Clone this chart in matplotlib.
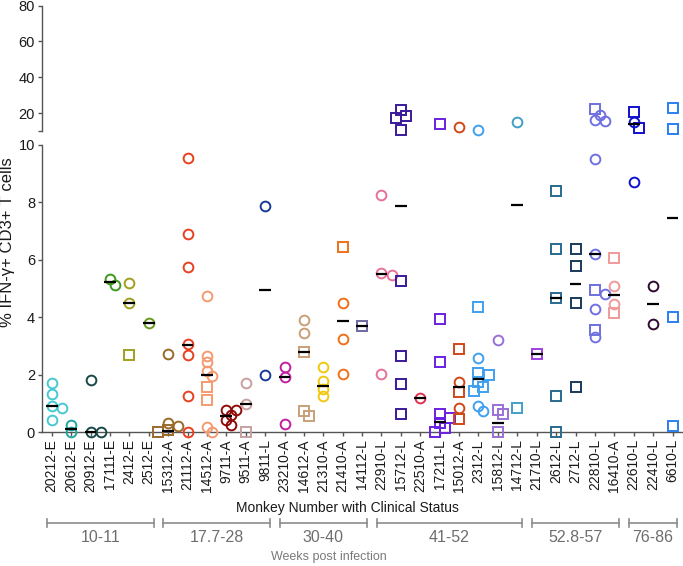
import numpy as np
import matplotlib
matplotlib.use('Agg')
import matplotlib.pyplot as plt
import matplotlib.transforms as mtransforms
from matplotlib.lines import Line2D

plt.rcParams['font.family'] = ['Liberation Sans', 'DejaVu Sans']

# monkeys (x categories) with clinical status suffix
monkeys = ['20212-E', '20612-E', '20912-E', '17111-E', '2412-E', '2512-E',
           '15312-A', '21112-A', '14512-A', '9711-A', '9511-A', '9811-L',
           '23210-A', '14612-A', '21310-A', '21410-A', '14112-L',
           '22910-L', '15712-L', '22510-A', '17211-L', '15012-A', '2312-L',
           '15812-L', '14712-L', '21710-L', '2612-L', '2712-L', '22810-L',
           '16410-A', '22610-L', '22410-L', '6610-L']

colors = ['#48c8d0', '#20a8a0', '#184848', '#3a9a20', '#a0a020', '#6a9a20',
          '#9a6a2a', '#e84020', '#f59a70', '#900a0a', '#c8a0a0', '#1a3a9a',
          '#c020a0', '#c8a078', '#f0c810', '#f07018', '#6a6aa0',
          '#e87098', '#3a1a9a', '#e03050', '#6a20e0', '#d04818', '#40a0f0',
          '#9a70d8', '#40a0c8', '#a040e0', '#2a6a90', '#1a3a5a', '#7070e0',
          '#f09a9a', '#1010d0', '#300a30', '#2a80f0']

# % IFN-g+ CD3+ T cells, circles and squares per monkey
circle_vals = [
    [1.33, 1.70, 0.92, 0.83, 0.43],
    [0.0, 0.27],
    [1.82, 0.0, 0.0],
    [5.13, 5.34],
    [5.21, 4.51],
    [3.79],
    [2.71, 0.32, 0.22],
    [9.54, 6.89, 5.74, 3.06, 2.68, 1.27, 0.0],
    [4.76, 2.67, 2.44, 2.14, 1.97, 0.2, 0.0],
    [0.78, 0.78, 0.6, 0.43, 0.25],
    [1.71, 0.97],
    [7.89, 1.99],
    [2.26, 1.91, 0.29],
    [3.91, 3.45],
    [2.26, 1.8, 1.5, 1.27],
    [4.51, 3.25, 2.02],
    [],
    [8.26, 5.56, 5.48, 2.02],
    [],
    [1.18],
    [],
    [12.4, 1.76, 0.83],
    [10.6, 2.6, 0.92, 0.74],
    [3.21],
    [14.9],
    [],
    [],
    [],
    [19.0, 16.2, 15.8, 9.51, 6.2, 4.81, 4.28, 3.31],
    [5.1, 4.47],
    [15.2, 8.72],
    [5.1, 3.77],
    [],
]
square_vals = [
    [], [], [], [], [2.69], [],
    [0.08, 0.0],
    [],
    [1.57, 1.12],
    [],
    [0.0],
    [],
    [],
    [2.81, 0.74, 0.57],
    [],
    [6.46],
    [3.7],
    [],
    [21.8, 18.6, 17.1, 10.6, 5.27, 2.66, 1.68, 0.63],
    [],
    [13.75, 3.94, 2.46, 0.63, 0.49, 0.31, 0.14, 0.0],
    [2.89, 1.41, 0.45],
    [4.37, 2.05, 1.99, 1.76, 1.59, 1.45],
    [0.78, 0.63, 0.0],
    [0.86],
    [2.72],
    [8.41, 6.37, 4.66, 1.27, 0.0],
    [6.37, 5.79, 4.49, 1.57],
    [22.3, 4.95, 3.56],
    [6.08, 4.14],
    [20.5, 11.8],
    [],
    [22.7, 11.1, 4.02, 0.23],
]

# median bars as drawn in the figure
medians = [0.92, 0.13, 0.0, 5.24, 4.51, 3.79, 0.05, 3.04, 2.0, 0.57, 0.97,
           4.94, 1.91, 2.81, 1.62, 3.88, 3.7, 5.51, 7.88, 1.18, 0.37, 1.59,
           1.84, 0.31, 7.9, 2.72, 4.66, 5.15, 6.2, 4.78, 13.7, 4.45, 7.47]

groups = ['10-11', '17.7-28', '30-40', '41-52', '52.8-57', '76-86']
group_first = [0, 6, 12, 17, 25, 30]
group_last = [5, 11, 16, 24, 29, 32]

BREAK = 10
W, H = 683, 566

fig = plt.figure(figsize=(W / 100, H / 100), dpi=100)
ax = fig.add_axes([42 / W, 1 - 432.3 / H, 641 / W, 287.3 / H])
ax_top = fig.add_axes([42 / W, 1 - 131 / H, 641 / W, 125.3 / H])

n = len(monkeys)
for a in (ax, ax_top):
    a.set_xlim(-0.5, -0.5 + 641 / 19.4)
    a.spines['top'].set_visible(False)
    a.spines['right'].set_visible(False)
    for s in a.spines.values():
        s.set_color('#555555')
        s.set_linewidth(1.0)
    a.tick_params(axis='both', direction='out', length=3, width=1.0,
                  color='#555555', labelsize=10.5, labelcolor='#1a1a1a', pad=2)
ax.set_ylim(0, BREAK)
ax_top.set_ylim(BREAK, 80)
ax_top.spines['bottom'].set_visible(False)
ax_top.set_xticks([])
ax.set_yticks([0, 2, 4, 6, 8, 10])
ax_top.set_yticks([10, 20, 40, 60, 80])
ax_top.set_yticklabels(['', '20', '40', '60', '80'])
ax.set_xticks(range(n))
ax.set_xticklabels(monkeys, rotation=90, fontsize=10)


def ypx(v):
    a = ax_top if v > BREAK else ax
    return a.transData.transform((0, v))[1]


dx = ax.transData.transform((1, 0))[0] - ax.transData.transform((0, 0))[0]


def spread(vals, gap=6.5, step=5.0):
    # simple beeswarm in pixel space
    ys = [ypx(v) for v in vals]
    offs = np.zeros(len(vals))
    placed = []
    for i in np.argsort(vals, kind='stable')[::-1]:
        k = 0
        found = None
        while found is None:
            cands = [0.0] if k == 0 else [k * step, -k * step]
            for c in cands:
                if all(np.hypot(c - px, ys[i] - py) >= gap for px, py in placed):
                    found = c
                    break
            k += 1
        placed.append((found, ys[i]))
        offs[i] = found / dx
    return offs


for i in range(n):
    vals = circle_vals[i] + square_vals[i]
    marks = ['o'] * len(circle_vals[i]) + ['s'] * len(square_vals[i])
    offs = spread(vals)
    for v, m, o in zip(vals, marks, offs):
        a = ax_top if v > BREAK else ax
        a.plot(i + o, v, marker=m, ms=7, mfc='none', mec=colors[i], mew=1.4,
               ls='none', clip_on=False, zorder=3)
    med = medians[i]
    a = ax_top if med > BREAK else ax
    a.plot([i - 0.3, i + 0.3], [med, med], color='black', lw=1.6,
           solid_capstyle='butt', clip_on=False, zorder=4)

fig.text(8 / W, 1 - 242 / H, '% IFN-\u03b3+ CD3+ T cells', rotation=90,
         ha='center', va='center', fontsize=12, color='#1a1a1a')
fig.text(347 / W, 1 - 508 / H, 'Monkey Number with Clinical Status',
         ha='center', va='center', fontsize=10, color='#1a1a1a')

# week brackets below the axis
trans = mtransforms.blended_transform_factory(ax.transData, fig.transFigure)
yb = 1 - 523.3 / H
tk = 4 / H
for name, g0, g1 in zip(groups, group_first, group_last):
    x0, x1 = g0 - 0.25, g1 + 0.25
    for xs, ys in [([x0, x1], [yb, yb]), ([x0, x0], [yb - tk, yb + tk]),
                   ([x1, x1], [yb - tk, yb + tk])]:
        fig.add_artist(Line2D(xs, ys, transform=trans, color='#8c8c8c', lw=1.2))
    fig.text((x0 + x1) / 2, 1 - 537 / H, name, transform=trans, ha='center',
             va='center', fontsize=11.5, color='#6e6e6e')
fig.text(329 / W, 1 - 557 / H, 'Weeks post infection', ha='center',
         va='center', fontsize=9, color='#7a7a7a')

fig.savefig('out.png', dpi=100)
